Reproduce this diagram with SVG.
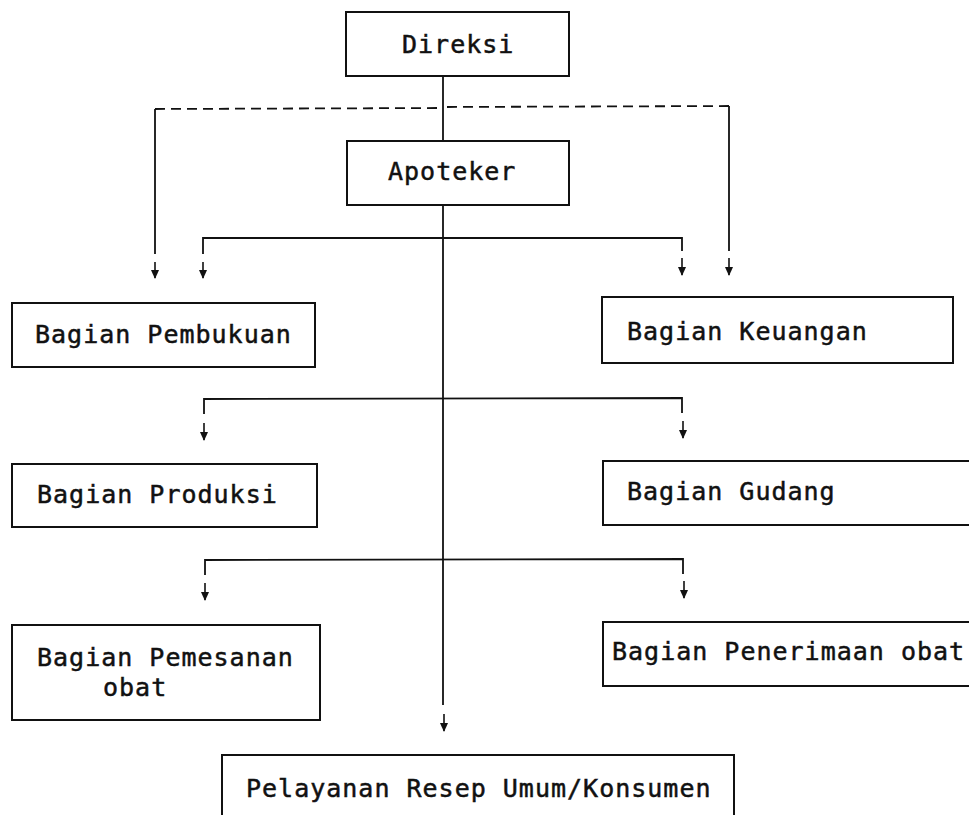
<svg xmlns="http://www.w3.org/2000/svg" width="969" height="815" viewBox="0 0 969 815">
<defs>
<marker id="ah" markerWidth="9" markerHeight="8" refX="8" refY="4" orient="auto" markerUnits="userSpaceOnUse" viewBox="0 0 9 8">
<path d="M0,0 L9,4 L0,8 Z" fill="#111"/>
</marker>
</defs>
<style>
.box{fill:#fff;stroke:#111;stroke-width:2}
.t{font-family:"DejaVu Sans Mono","Liberation Mono",monospace;font-size:25px;letter-spacing:1px;fill:#111;stroke:#111;stroke-width:0.5}
.ln{fill:none;stroke:#111;stroke-width:1.8}
.dash{fill:none;stroke:#111;stroke-width:1.8;stroke-dasharray:10 6}
.ar{fill:none;stroke:#111;stroke-width:1.6;marker-end:url(#ah)}
</style>
<rect width="969" height="815" fill="#fff"/>
<g id="connectors">
<line class="ln" x1="443" y1="76" x2="443" y2="141"/>
<line class="dash" x1="155" y1="109" x2="443" y2="108"/>
<line class="dash" x1="447" y1="107" x2="729" y2="106"/>
<line class="ln" x1="155" y1="109" x2="155" y2="254"/>
<line class="ln" x1="729" y1="106" x2="729" y2="251"/>
<line class="ar" x1="155" y1="262" x2="155" y2="278"/>
<line class="ar" x1="729" y1="258" x2="729" y2="275"/>
<line class="ln" x1="443" y1="205" x2="443" y2="705"/>
<line class="ar" x1="444" y1="714" x2="444" y2="731"/>
<polyline class="ln" points="203,254 203,238 682,238 682,251"/>
<line class="ar" x1="203" y1="262" x2="203" y2="278"/>
<line class="ar" x1="682" y1="258" x2="682" y2="275"/>
<polyline class="ln" points="204,414 204,399 682,398 682,413"/>
<line class="ar" x1="204" y1="423" x2="204" y2="440"/>
<line class="ar" x1="683" y1="421" x2="683" y2="438"/>
<polyline class="ln" points="205,575 205,560 683,559 683,574"/>
<line class="ar" x1="205" y1="583" x2="205" y2="600"/>
<line class="ar" x1="684" y1="581" x2="684" y2="598"/>
</g>
<g id="direksi">
<rect class="box" x="346" y="12" width="223" height="64"/>
<text class="t" x="402" y="53">Direksi</text>
</g>
<g id="apoteker">
<rect class="box" x="347" y="141" width="222" height="64"/>
<text class="t" x="388" y="180">Apoteker</text>
</g>
<g id="pembukuan">
<rect class="box" x="12" y="303" width="303" height="64"/>
<text class="t" x="35" y="343">Bagian Pembukuan</text>
</g>
<g id="keuangan">
<rect class="box" x="602" y="297" width="351" height="66"/>
<text class="t" x="627" y="340">Bagian Keuangan</text>
</g>
<g id="produksi">
<rect class="box" x="12" y="464" width="305" height="63"/>
<text class="t" x="37" y="503">Bagian Produksi</text>
</g>
<g id="gudang">
<rect class="box" x="603" y="461" width="380" height="64"/>
<text class="t" x="627" y="500">Bagian Gudang</text>
</g>
<g id="pemesanan">
<rect class="box" x="12" y="625" width="308" height="95"/>
<text class="t" x="37" y="666">Bagian Pemesanan</text>
<text class="t" x="103" y="696">obat</text>
</g>
<g id="penerimaan">
<rect class="box" x="603" y="622" width="380" height="64"/>
<text class="t" x="612" y="660">Bagian Penerimaan obat</text>
</g>
<g id="pelayanan">
<rect class="box" x="222" y="755" width="512" height="80"/>
<text class="t" x="246" y="797">Pelayanan Resep Umum/Konsumen</text>
</g>
</svg>
